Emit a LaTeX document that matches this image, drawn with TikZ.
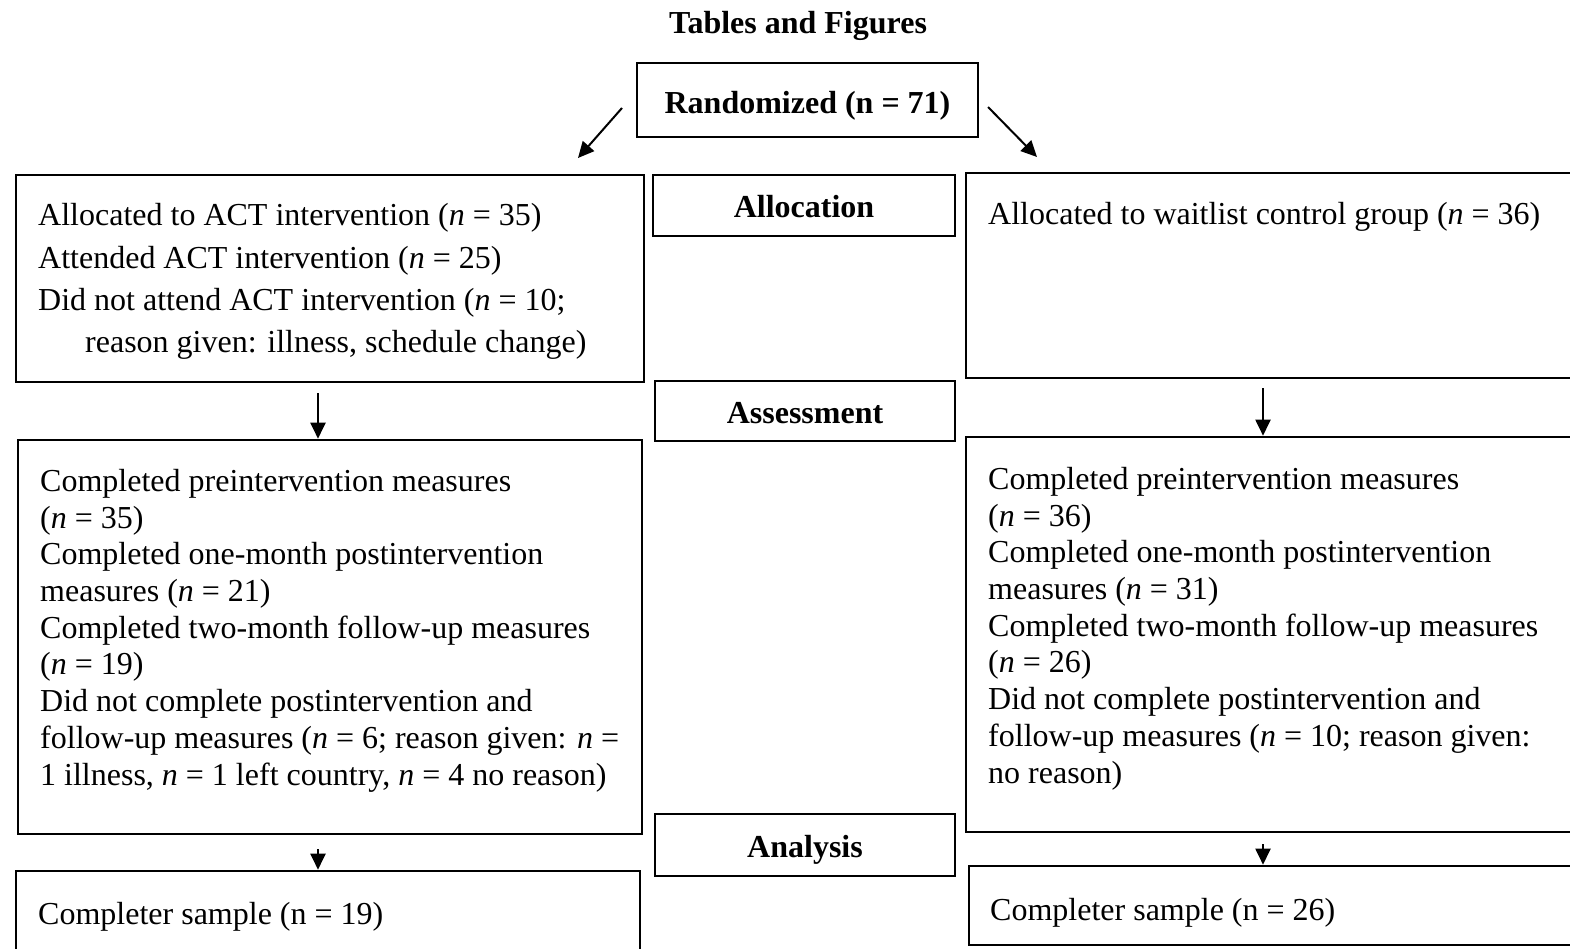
\documentclass[tikz,border=0pt]{standalone}
\usepackage{fontspec}
\setmainfont{Liberation Serif}
\usetikzlibrary{arrows.meta,calc}
\begin{document}
\begin{tikzpicture}[x=1pt,y=-1pt,
  box/.style={draw,line width=2.6pt,inner sep=0pt,rectangle},
  lbl/.style={font=\fontsize{32}{37}\selectfont\bfseries},
  lblbox/.style={box,lbl,text height=25pt,text depth=0pt},
  txtA/.style={anchor=base west,inner sep=0pt,align=left,font=\fontsize{32}{42}\selectfont},
  txtB/.style={anchor=base west,inner sep=0pt,align=left,font=\fontsize{32}{36.7}\selectfont},
  arr/.style={line width=2pt,-{Triangle[length=16pt,width=15pt]}}]
\useasboundingbox (0,0) rectangle (1570,949);
\clip (0,0) rectangle (1570,949);
\coordinate (cl) at (318,0);
\coordinate (cr) at (1263,0);
% title
\node[lbl] (title) at (798,26) {Tables and Figures};
% boxes
\node[box,lbl,text height=30pt,text depth=2pt,minimum width=341pt,minimum height=74pt] (rand) at (807.5,100) {Randomized (n = 71)};
\node[box,minimum width=628pt,minimum height=207pt] (l1) at (330,278.5) {};
\node[lblbox,minimum width=302pt,minimum height=61pt] (alloc) at (804,205.5) {Allocation};
\node[box,minimum width=610pt,minimum height=205pt] (r1) at (1271,275.5) {};
\node[lblbox,minimum width=300pt,minimum height=60pt] (assess) at (805,411) {Assessment};
\node[box,minimum width=624pt,minimum height=394pt] (l2) at (330,637) {};
\node[box,minimum width=610pt,minimum height=395pt] (r2) at (1271,634.5) {};
\node[lblbox,minimum width=300pt,minimum height=62pt] (anal) at (805,845) {Analysis};
\node[box,minimum width=624pt,minimum height=129pt] (l3) at (328,935.5) {};
\node[box,minimum width=607pt,minimum height=79pt] (r3) at (1272.5,905.5) {};
% texts (anchor = baseline of last line)
\node[txtA] (l1t) at (38,352) {Allocated to ACT intervention (\textit{n} = 35)\\
Attended ACT intervention (\textit{n} = 25)\\
Did not attend ACT intervention (\textit{n} = 10;\\
\hspace*{47pt}reason given: illness, schedule change)};
\node[txtA] (r1t) at (988,225) {Allocated to waitlist control group (\textit{n} = 36)};
\node[txtB] (l2t) at (40,785) {Completed preintervention measures\\
(\textit{n} = 35)\\
Completed one-month postintervention\\
measures (\textit{n} = 21)\\
Completed two-month follow-up measures\\
(\textit{n} = 19)\\
Did not complete postintervention and\\
follow-up measures (\textit{n} = 6; reason given: \textit{n} =\\
1 illness, \textit{n} = 1 left country, \textit{n} = 4 no reason)};
\node[txtB] (r2t) at (988,783) {Completed preintervention measures\\
(\textit{n} = 36)\\
Completed one-month postintervention\\
measures (\textit{n} = 31)\\
Completed two-month follow-up measures\\
(\textit{n} = 26)\\
Did not complete postintervention and\\
follow-up measures (\textit{n} = 10; reason given:\\
no reason)};
\node[txtA] (l3t) at (38,924) {Completer sample (n = 19)};
\node[txtA] (r3t) at (990,920) {Completer sample (n = 26)};
% arrows
\coordinate (ls) at (622,108);
\coordinate (le) at (578,158);
\coordinate (rs) at (988,107);
\coordinate (re) at (1037,157);
\draw[arr] (ls) -- (le);
\draw[arr] (rs) -- (re);
\draw[arr] ($(l1.south -| cl)+(0,10)$) -- (l2.north -| cl);
\draw[arr] ($(l2.south -| cl)+(0,14)$) -- (l3.north -| cl);
\draw[arr] ($(r1.south -| cr)+(0,9)$) -- (r2.north -| cr);
\draw[arr] ($(r2.south -| cr)+(0,11)$) -- (r3.north -| cr);
\end{tikzpicture}
\end{document}
